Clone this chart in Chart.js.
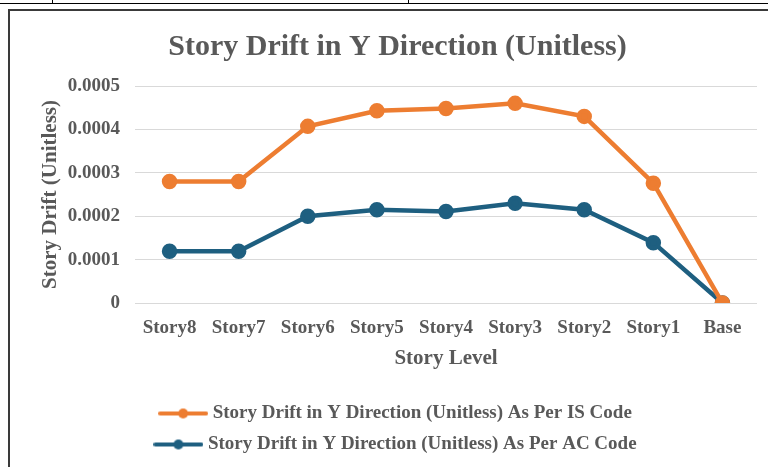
<!DOCTYPE html>
<html>
<head>
<meta charset="utf-8">
<script src="https://cdn.jsdelivr.net/npm/chart.js@4"></script>
<style>
  html, body { margin:0; padding:0; background:#fff; }
  body { width:768px; height:467px; position:relative; overflow:hidden; }
  #topLine { position:absolute; left:0; top:3px; width:768px; height:1px; background:#000; }
  .tick { position:absolute; top:0; width:1px; height:4px; background:#000; }
  #frame { position:absolute; left:8px; top:9px; width:780px; height:480px;
           border-left:2px solid #3a3a3a; border-top:2px solid #3a3a3a; }
  #wrap { position:absolute; left:10px; top:11px; width:758px; height:456px; }
</style>
</head>
<body>
<div id="topLine"></div>
<div class="tick" style="left:52px"></div>
<div class="tick" style="left:408px"></div>
<div id="frame"></div>
<div id="wrap"><canvas id="chartDrift"></canvas></div>
<script>
// === STORY DRIFT Y === //

const storyLabels = ["Story8","Story7","Story6","Story5","Story4","Story3","Story2","Story1","Base"];
const driftIS = [0.00028, 0.00028, 0.000407, 0.000443, 0.000448, 0.00046, 0.00043, 0.000276, 0];
const driftAC = [0.000119, 0.000119, 0.0002, 0.000215, 0.000211, 0.00023, 0.000215, 0.000139, 0];
const yTicks = [0, 0.0001, 0.0002, 0.0003, 0.0004, 0.0005];

const ORANGE = "#ED7D31";
const BLUE = "#1E5F80";
const TXT = "#595959";
const FONT = "'Liberation Serif', 'Times New Roman', serif";

// legend marker: line with a dot in the middle (wider than its box, so it sits close to the text)
function legendMarker(color){
  const c = document.createElement("canvas");
  c.width = 50; c.height = 12;
  const g = c.getContext("2d");
  g.strokeStyle = color; g.lineWidth = 4; g.lineCap = "round";
  g.beginPath(); g.moveTo(2,6); g.lineTo(48,6); g.stroke();
  g.fillStyle = color;
  g.beginPath(); g.arc(25,6,5,0,Math.PI*2); g.fill();
  return c;
}

new Chart(document.getElementById("chartDrift"), {
  type: "line",
  data: {
    labels: storyLabels,
    datasets: [
      { label:"Story Drift in Y Direction (Unitless) As Per IS Code", data:driftIS,
        borderColor:ORANGE, backgroundColor:ORANGE, borderWidth:4.5,
        pointRadius:5.5, pointHoverRadius:5.5, pointStyle:"circle", tension:0 },
      { label:"Story Drift in Y Direction (Unitless) As Per AC Code", data:driftAC,
        borderColor:BLUE, backgroundColor:BLUE, borderWidth:4.5,
        pointRadius:5.5, pointHoverRadius:5.5, pointStyle:"circle", tension:0 }
    ]
  },
  options: {
    responsive:true, maintainAspectRatio:false, animation:false,
    layout:{ padding:{ left:28, right:11, top:4, bottom:3 } },
    plugins:{
      title:{ display:true, text:"Story Drift in Y Direction (Unitless)", color:TXT,
        font:{ family:FONT, size:30, weight:"bold" }, padding:{ top:14, bottom:21 } },
      legend:{ position:"bottom",
        labels:{ color:TXT, font:{ family:FONT, size:19, weight:"bold" },
          usePointStyle:true, pointStyleWidth:40, padding:12,
          generateLabels(chart){
            return chart.data.datasets.map((ds,i)=>({
              text:ds.label, fontColor:TXT, pointStyle:legendMarker(ds.borderColor),
              strokeStyle:"transparent", fillStyle:"transparent", lineWidth:0, datasetIndex:i
            }));
          } } },
      tooltip:{ enabled:false }
    },
    scales:{
      x:{ offset:true, grid:{ display:false }, border:{ display:false },
        ticks:{ color:TXT, font:{ family:FONT, size:19, weight:"bold" }, padding:6 },
        title:{ display:true, text:"Story Level", color:TXT,
          font:{ family:FONT, size:21, weight:"bold" }, padding:{ top:0, bottom:21 } } },
      y:{ min:0, max:0.0005, afterBuildTicks(s){ s.ticks = yTicks.map(v=>({ value:v })); },
        afterFit(s){ s.width = 97; },
        grid:{ color:"#D9D9D9", lineWidth:1, drawTicks:false }, border:{ display:false },
        ticks:{ color:TXT, font:{ family:FONT, size:19, weight:"bold" }, padding:15,
          callback:v => v === 0 ? "0" : v.toFixed(4) },
        title:{ display:true, text:"Story Drift (Unitless)", color:TXT,
          font:{ family:FONT, size:21, weight:"bold" }, padding:{ top:0, bottom:4 } } }
    }
  }
});
</script>
</body>
</html>
